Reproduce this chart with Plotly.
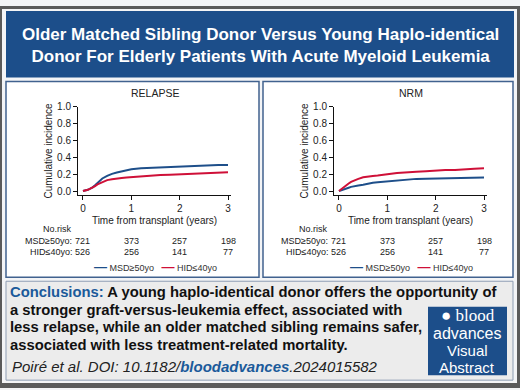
import plotly.graph_objects as go

# ---------------- data ----------------
time_years = [0, 0.05, 0.1, 0.15, 0.2, 0.25, 0.3, 0.4, 0.5, 0.6, 0.7, 0.8, 0.9, 1.0,
              1.2, 1.4, 1.6, 1.8, 2.0, 2.2, 2.4, 2.6, 2.8, 3.0]
relapse_msd = [0, 0.005, 0.015, 0.03, 0.045, 0.07, 0.1, 0.15, 0.18, 0.205, 0.22, 0.235, 0.245, 0.258,
               0.27, 0.276, 0.28, 0.285, 0.29, 0.295, 0.3, 0.305, 0.31, 0.31]
relapse_hid = [0, 0.005, 0.015, 0.028, 0.04, 0.06, 0.08, 0.11, 0.13, 0.14, 0.15, 0.155, 0.16, 0.165,
               0.175, 0.18, 0.19, 0.195, 0.2, 0.205, 0.21, 0.22, 0.225, 0.225]
nrm_msd = [0, 0.012, 0.025, 0.035, 0.04, 0.05, 0.058, 0.065, 0.075, 0.09, 0.1, 0.105, 0.11, 0.12,
           0.13, 0.14, 0.145, 0.148, 0.15, 0.152, 0.155, 0.158, 0.16, 0.16]
nrm_hid = [0, 0.025, 0.05, 0.07, 0.09, 0.11, 0.125, 0.145, 0.165, 0.175, 0.18, 0.185, 0.19, 0.2,
           0.215, 0.225, 0.23, 0.235, 0.245, 0.25, 0.25, 0.26, 0.265, 0.27]

risk_times = [0, 1, 2, 3]
msd_at_risk = [721, 373, 257, 198]
hid_at_risk = [526, 256, 141, 77]

group_names = ["MSD≥50yo", "HID≤40yo"]
panel_titles = ["RELAPSE", "NRM"]
y_ticks = [0, 0.2, 0.4, 0.6, 0.8, 1.0]
x_ticks = [0, 1, 2, 3]

conclusion_lines = [
    "<span style='color:#1b5a9a'>Conclusions:</span> A young haplo-identical donor offers the opportunity of",
    "a stronger graft-versus-leukemia effect, associated with",
    "less relapse, while an older matched sibling remains safer,",
    "associated with less treatment-related mortality.",
]

# ---------------- styles ----------------
W, H = 520, 390
NAVY = "#1c4e8a"
BLUE = "#1e4f8a"
RED = "#cf1038"
SANS = "Liberation Sans, Arial, sans-serif"
NARROW = "Liberation Sans Narrow, Liberation Sans, Arial, sans-serif"


def px(x):
    return x / W


def py(y):
    return 1 - y / H


fig = go.Figure()

series = [
    ("x", "y", relapse_msd, relapse_hid),
    ("x2", "y2", nrm_msd, nrm_hid),
]
for xa, ya, msd, hid in series:
    fig.add_trace(go.Scatter(x=time_years, y=msd, mode="lines", xaxis=xa, yaxis=ya,
                             line=dict(color=BLUE, width=2), name=group_names[0], showlegend=False))
    fig.add_trace(go.Scatter(x=time_years, y=hid, mode="lines", xaxis=xa, yaxis=ya,
                             line=dict(color=RED, width=2), name=group_names[1], showlegend=False))

axis_common = dict(showgrid=False, zeroline=False, showline=True, linecolor="#111", linewidth=1,
                   ticks="outside", ticklen=4, tickcolor="#111", tickwidth=1,
                   tickfont=dict(family=SANS, size=10, color="#222"))

offsets = [0, 256]
layout_axes = {}
for i, off in enumerate(offsets):
    sx = "" if i == 0 else str(i + 1)
    layout_axes["xaxis" + sx] = dict(axis_common, domain=[px(78 + off), px(231 + off)],
                                     range=[-0.103, 3.062], tickvals=x_ticks,
                                     anchor="y" + sx,
                                     title=dict(text="Time from transplant (years)",
                                                font=dict(family=NARROW, size=10, color="#222"),
                                                standoff=3))
    layout_axes["yaxis" + sx] = dict(axis_common, domain=[py(193), py(103)],
                                     range=[-0.047, 1.0], tickvals=y_ticks, tickformat=".1f",
                                     anchor="x" + sx,
                                     title=dict(text="Cumulative incidence",
                                                font=dict(family=NARROW, size=10, color="#222"),
                                                standoff=2))

shapes = []


def rect(x0, y0, x1, y1, fill, line=None, lw=0):
    shapes.append(dict(type="rect", xref="paper", yref="paper", layer="below",
                       x0=px(x0), x1=px(x1), y0=py(y1), y1=py(y0), fillcolor=fill,
                       line=dict(color=line or fill, width=lw)))


# outer frame
rect(0, 0, 520, 3, "#5a5a5a")
rect(0, 385, 520, 390, "#5a5a5a")
rect(0, 0, 2, 390, "#5a5a5a")
rect(517, 0, 520, 390, "#5a5a5a")
# title box
rect(6, 5, 514, 73, NAVY)
# panels
rect(6, 77, 259, 277, "white", "#41628f", 1.5)
rect(263, 77, 513, 277, "white", "#41628f", 1.5)
# conclusions box
rect(6, 281, 513, 382, "#ececec", "#8d9db3", 1)
# logo box
rect(428, 307, 507, 377, NAVY)

annotations = []


def note(text, x, y, size, color="#222", family=SANS, xanchor="center", yanchor="middle", **kw):
    annotations.append(dict(text=text, x=px(x), y=py(y), xref="paper", yref="paper",
                            showarrow=False, xanchor=xanchor, yanchor=yanchor,
                            font=dict(family=family, size=size, color=color), **kw))


note("<b>Older Matched Sibling Donor Versus Young Haplo-identical<br>"
     "Donor For Elderly Patients With Acute Myeloid Leukemia</b>", 260, 40, 17, "white")

for i, off in enumerate(offsets):
    xa = "x" if i == 0 else "x2"
    note(panel_titles[i], 155 + off, 89, 10.5, "#222")
    note("No.risk", 57 + off, 228, 9, "#222")
    note(group_names[0] + ":", 74 + off, 240, 9, "#222", xanchor="right")
    note(group_names[1] + ":", 74 + off, 251.5, 9, "#222", xanchor="right")
    for t, a, b in zip(risk_times, msd_at_risk, hid_at_risk):
        for val, yy in ((a, 240), (b, 251.5)):
            annotations.append(dict(text=str(val), x=t, y=py(yy), xref=xa, yref="paper",
                                    showarrow=False, xanchor="center", yanchor="middle",
                                    font=dict(family=SANS, size=9, color="#222")))
    legend_txt = ("<span style='color:%s;font-size:13px'><b>—</b></span> %s"
                  "&nbsp;&nbsp;&nbsp;<span style='color:%s;font-size:13px'><b>—</b></span> %s"
                  % (BLUE, group_names[0], RED, group_names[1]))
    note(legend_txt, 155 + off, 266, 9, "#333")

for k, line in enumerate(conclusion_lines):
    note("<b>" + line + "</b>", 8, 292 + 18 * k, 14.8, "#111", xanchor="left")
note("<i>Poiré et al. DOI: 10.1182/<b><span style='color:#1b5a9a'>bloodadvances</span></b>.2024015582</i>",
     10, 368, 15, "#222", xanchor="left")

# logo text
note("● blood", 468, 316, 17, "white", family="Liberation Serif, DejaVu Serif, serif")
note("advances", 467, 334, 16, "white")
note("Visual", 467, 352, 15, "white")
note("Abstract", 467, 369, 15, "white")

fig.update_layout(width=W, height=H, margin=dict(l=0, r=0, t=0, b=0),
                  paper_bgcolor="#f3f4f6", plot_bgcolor="rgba(0,0,0,0)",
                  shapes=shapes, annotations=annotations, showlegend=False,
                  **layout_axes)

fig.write_html("out.html", config={"displayModeBar": False},
               post_script="document.body.style.margin='0';document.body.style.padding='0';"
                           "document.body.style.overflow='hidden';")
